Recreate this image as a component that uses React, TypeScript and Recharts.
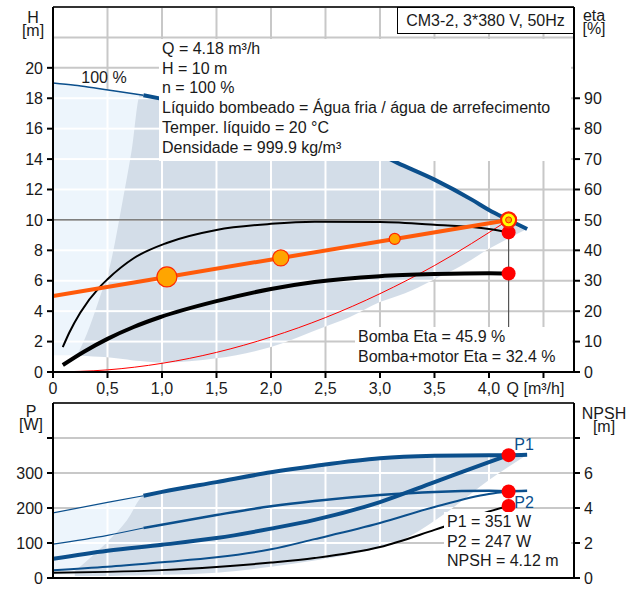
import React from "react";
import {
  Area,
  CartesianGrid,
  ComposedChart,
  Line,
  ReferenceLine,
  XAxis,
  YAxis,
} from "recharts";

// ---- axis ticks / grid ----
const qTicks = [0, 0.5, 1, 1.5, 2, 2.5, 3, 3.5, 4, 4.5];
const hTicks = [0, 2, 4, 6, 8, 10, 12, 14, 16, 18, 20];
const hGrid = [0, 2, 4, 6, 8, 10, 12, 14, 16, 18, 20, 22, 24];
const etaTicks = [0, 10, 20, 30, 40, 50, 60, 70, 80, 90];
const pTicks = [0, 100, 200, 300, 400];
const pGrid = [0, 100, 200, 300, 400, 500];
const npshTicks = [0, 2, 4, 6, 8];

// ---- top chart: H / eta ----
const curve100ThinQ = [0, 0.2, 0.4, 0.6, 0.83];
const curve100ThinH = [19.0, 18.85, 18.65, 18.45, 18.2];
const curve100Q = [0.83, 1.0, 1.5, 2.0, 2.5, 3.0, 3.16, 3.5, 3.85, 4.0, 4.18, 4.35];
const curve100H = [18.2, 17.96, 17.2, 16.4, 15.4, 14.3, 13.75, 12.65, 11.3, 10.65, 10.0, 9.4];

const lightQ = [0, 0.2, 0.4, 0.6, 0.8];
const lightLow = [1.1, 1.1, 1.1, 1.1, 1.1];
const lightHigh = [19.0, 18.85, 18.65, 18.45, 18.25];

const shadeQ = [0.22, 0.31, 0.42, 0.52, 0.64, 0.72, 0.8, 1.0, 1.5, 2.0, 2.5, 2.72, 3.0, 3.16, 3.3, 3.5, 3.75, 4.0, 4.18, 4.35];
const shadeLow = [1.1, 1.05, 1.0, 0.95, 0.85, 0.78, 0.72, 0.62, 0.9, 1.65, 3.0, 3.6, 4.6, 5.0, 5.4, 6.1, 7.0, 8.1, 8.8, 9.4];
const shadeHigh = [1.1, 2.5, 4.7, 6.9, 11.3, 14.5, 18.25, 17.96, 17.2, 16.4, 15.4, 14.9, 14.3, 13.75, 13.3, 12.65, 11.75, 10.65, 10.0, 9.4];

const controlQ = [0, 1.045, 2.09, 3.135, 4.18];
const controlH = [5, 6.25, 7.5, 8.75, 10];

const systemQ = [0, 0.5, 1.0, 1.5, 2.0, 2.5, 3.0, 3.5, 4.18];
const systemH = [0, 0.14, 0.57, 1.29, 2.3, 3.58, 5.15, 7.0, 10];

const pumpEtaQ = [0.09, 0.15, 0.25, 0.43, 0.5, 0.74, 1.05, 1.5, 2.0, 2.4, 3.0, 3.5, 4.0, 4.18];
const pumpEta = [8.2, 13, 19.5, 28, 30.5, 37.4, 42.5, 46.7, 48.7, 49.4, 49.3, 48.4, 47.0, 45.9];
const totalEtaQ = [0.09, 0.28, 0.5, 0.74, 0.98, 1.5, 2.0, 2.4, 3.0, 3.5, 4.0, 4.18];
const totalEta = [2.3, 6.6, 10.9, 14.8, 18, 23.3, 27.3, 29.6, 31.5, 32.2, 32.5, 32.4];

const dutyQ = 4.18;
const dutyH = 10;
const dutyEta = [45.9, 32.4];

// ---- bottom chart: P / NPSH ----
const p1ThinQ = [0, 0.5, 0.83];
const p1Thin = [186, 216, 235];
const p1Q = [0.83, 1.0, 1.5, 2.0, 2.4, 3.0, 3.5, 4.0, 4.18, 4.35];
const p1 = [235, 246, 274, 302, 320, 342, 349, 351, 351, 352];
const p2ThinQ = [0, 0.5, 0.83];
const p2Thin = [97, 122, 143];
const p2Q = [0.83, 1.5, 2.0, 2.4, 3.0, 3.5, 4.0, 4.18, 4.35];
const p2 = [143, 180, 205, 220, 237, 246, 249, 248, 249];
const sysQ = [0, 0.5, 1.0, 1.5, 2.0, 2.4, 3.0, 3.5, 4.0, 4.18];
const p1Sys = [55, 78, 95, 114, 141, 166, 217, 274, 331, 351];
const p2Sys = [22, 32, 45, 59, 82, 111, 157, 203, 240, 247];
const npsh = [0.3, 0.35, 0.45, 0.63, 0.88, 1.14, 1.77, 2.75, 3.8, 4.12];

const bLightQ = [0, 0.2, 0.5, 0.83];
const bLightLow = [10, 10, 10, 10];
const bLightHigh = [186, 198, 216, 235];
const bShadeQ = [0.2, 0.35, 0.52, 0.68, 0.83, 1.0, 1.5, 2.0, 2.4, 2.8, 3.2, 3.6, 4.0, 4.18, 4.35];
const bShadeLow = [6, 6, 6, 7, 8, 9, 15, 32, 50, 72, 108, 185, 280, 318, 352];
const bShadeHigh = [20, 60, 110, 166, 235, 246, 274, 302, 320, 334, 345, 349.5, 351, 351, 352];

const dutyP = [351, 247];
const dutyNpsh = 4.12;

// ---- styles / layout ----
const W = 628;
const TOP_H = 400;
const BOT_H = 192;
const AX_L = 53;
const AX_R = 54;
const Q_MAX = 4.78;
const TOP_M = 7;
const TOP_XH = 28;
const BOT_M = 3;
const BOT_XH = 14;
const PLOT_W = W - AX_L - AX_R;
const CELL_W = (PLOT_W / Q_MAX) * 0.5;
const TOP_CELL_H = (TOP_H - TOP_M - TOP_XH) / 12;
const BOT_CELL_H = (BOT_H - BOT_M - BOT_XH) / 5;

const BLUE = "#0b4f8c";
const SHADE = "#d3dde8";
const SHADE_LIGHT = "#edf5fc";
const GRID = "#c8c8c8";
const ORANGE = "#ff5a0a";
const RED = "#ff0000";
const FONT = "'Liberation Sans', Arial, sans-serif";
const ORANGE_R = [0, 10, 8, 5.5];

const pts = (q: number[], v: number[]) => q.map((x, i) => ({ q: x, v: v[i] }));
const band = (q: number[], lo: number[], hi: number[]) =>
  q.map((x, i) => ({ q: x, v: [lo[i], hi[i]] }));

const fmtQ = (v: number) => (v === 0 ? "0" : v.toFixed(1).replace(".", ","));

function QTick(props: any) {
  const { x, y, payload } = props;
  const last = payload.value === 4.5;
  return (
    <text x={x + (last ? -8 : 0)} y={y} dy="0.71em" textAnchor="middle" fontSize={16} fill="#1a1a1a">
      {last ? "Q [m³/h]" : fmtQ(payload.value)}
    </text>
  );
}

// shade fill that carries the white grid lines over the shaded areas
function GridPattern({ id, fill, y, h }: { id: string; fill: string; y: number; h: number }) {
  return (
    <pattern id={id} patternUnits="userSpaceOnUse" x={AX_L - 1} y={y - 1} width={CELL_W} height={h}>
      <rect width={CELL_W} height={h} fill={fill} />
      <rect width={2} height={h} fill="#fff" />
      <rect width={CELL_W} height={2} fill="#fff" />
    </pattern>
  );
}

const tickStyle = { fontSize: 16, fill: "#1a1a1a" };
const axisLine = { stroke: "#000", strokeWidth: 2 };

// axis unit label: name and unit on two lines, placed by the first baseline
function Unit({ cx, base, lines, color }: { cx: number; base: number; lines: string[]; color?: string }) {
  return (
    <div
      style={{
        position: "absolute",
        left: cx - 40,
        width: 80,
        top: base - 12,
        lineHeight: "13px",
        textAlign: "center",
        color: color || "#1a1a1a",
        whiteSpace: "pre",
      }}
    >
      {lines.join("\n")}
    </div>
  );
}

function TextBox({ left, top, width, height, lines }: { left: number; top: number; width: number; height: number; lines: string[] }) {
  return (
    <div
      style={{
        position: "absolute",
        left,
        top,
        width,
        height,
        background: "#fff",
        paddingLeft: 3,
        boxSizing: "border-box",
      }}
    >
      {lines.map((l) => (
        <div key={l} style={{ lineHeight: "19.7px", whiteSpace: "nowrap" }}>
          {l}
        </div>
      ))}
    </div>
  );
}

function TopChart() {
  return (
    <ComposedChart width={W} height={TOP_H} margin={{ top: TOP_M, right: 0, bottom: 0, left: 0 }}>
      <defs>
        <GridPattern id="topDark" fill={SHADE} y={TOP_M} h={TOP_CELL_H} />
        <GridPattern id="topLight" fill={SHADE_LIGHT} y={TOP_M} h={TOP_CELL_H} />
      </defs>
      <CartesianGrid
        yAxisId="h"
        stroke={GRID}
        strokeWidth={2}
        horizontalValues={hGrid}
        verticalValues={qTicks}
      />
      <XAxis
        dataKey="q"
        type="number"
        domain={[0, Q_MAX]}
        ticks={qTicks}
        interval={0}
        allowDataOverflow
        height={TOP_XH}
        tick={<QTick />}
        tickSize={6}
        tickMargin={5}
        tickLine={axisLine}
        axisLine={axisLine}
      />
      <YAxis
        yAxisId="h"
        type="number"
        domain={[0, 24]}
        ticks={hTicks}
        interval={0}
        allowDataOverflow
        width={AX_L}
        tick={tickStyle}
        tickSize={6}
        tickMargin={4}
        tickLine={axisLine}
        axisLine={axisLine}
      />
      <YAxis
        yAxisId="eta"
        orientation="right"
        type="number"
        domain={[0, 120]}
        ticks={etaTicks}
        interval={0}
        allowDataOverflow
        width={AX_R}
        tick={{ ...tickStyle, textAnchor: "start" }}
        tickSize={6}
        tickMargin={4}
        tickLine={axisLine}
        axisLine={axisLine}
      />
      <Area yAxisId="h" data={band(lightQ, lightLow, lightHigh)} dataKey="v" type="linear" fill="url(#topLight)" fillOpacity={1} stroke="none" isAnimationActive={false} />
      <Area yAxisId="h" data={band(shadeQ, shadeLow, shadeHigh)} dataKey="v" type="monotone" fill="url(#topDark)" fillOpacity={1} stroke="none" isAnimationActive={false} />
      <ReferenceLine yAxisId="h" y={24} stroke="#000" strokeWidth={1.5} />
      <ReferenceLine yAxisId="h" segment={[{ x: 0, y: dutyH }, { x: dutyQ, y: dutyH }]} stroke="#555" strokeWidth={1.2} />
      <ReferenceLine yAxisId="h" segment={[{ x: dutyQ, y: 0 }, { x: dutyQ, y: dutyH }]} stroke="#555" strokeWidth={1.2} />
      <Line yAxisId="h" data={pts(systemQ, systemH)} dataKey="v" type="monotone" stroke={RED} strokeWidth={1} dot={false} activeDot={false} isAnimationActive={false} />
      <Line yAxisId="eta" data={pts(pumpEtaQ, pumpEta)} dataKey="v" type="monotone" stroke="#000" strokeWidth={2} dot={false} activeDot={false} isAnimationActive={false} />
      <Line yAxisId="eta" data={pts(totalEtaQ, totalEta)} dataKey="v" type="monotone" stroke="#000" strokeWidth={4} dot={false} activeDot={false} isAnimationActive={false} />
      <Line yAxisId="h" data={pts(curve100ThinQ, curve100ThinH)} dataKey="v" type="monotone" stroke={BLUE} strokeWidth={1.5} dot={false} activeDot={false} isAnimationActive={false} />
      <Line yAxisId="h" data={pts(curve100Q, curve100H)} dataKey="v" type="monotone" stroke={BLUE} strokeWidth={4} dot={false} activeDot={false} isAnimationActive={false} />
      <Line
        yAxisId="h"
        data={pts(controlQ, controlH)}
        dataKey="v"
        type="linear"
        stroke={ORANGE}
        strokeWidth={4}
        activeDot={false}
        isAnimationActive={false}
        dot={(p: any) => {
          const r = ORANGE_R[p.index];
          if (!r) return <g key={p.index} />;
          return <circle key={p.index} cx={p.cx} cy={p.cy} r={r} fill="#ffa500" stroke="#ff2a00" strokeWidth={1.2} />;
        }}
      />
      <Line
        yAxisId="eta"
        data={pts([dutyQ, dutyQ], dutyEta)}
        dataKey="v"
        stroke="none"
        activeDot={false}
        isAnimationActive={false}
        dot={(p: any) => <circle key={p.index} cx={p.cx} cy={p.cy} r={7} fill={RED} stroke="none" />}
      />
      <Line
        yAxisId="h"
        data={pts([dutyQ], [dutyH])}
        dataKey="v"
        stroke="none"
        activeDot={false}
        isAnimationActive={false}
        dot={(p: any) => (
          <g key={p.index}>
            <circle cx={p.cx} cy={p.cy} r={7.5} fill="#ffff00" stroke="#ff2000" strokeWidth={2.2} />
            <circle cx={p.cx} cy={p.cy} r={3} fill="#ffa500" stroke="#ff2000" strokeWidth={1} />
          </g>
        )}
      />
    </ComposedChart>
  );
}

function BottomChart() {
  return (
    <ComposedChart width={W} height={BOT_H} margin={{ top: BOT_M, right: 0, bottom: 0, left: 0 }}>
      <defs>
        <GridPattern id="botDark" fill={SHADE} y={BOT_M} h={BOT_CELL_H} />
        <GridPattern id="botLight" fill={SHADE_LIGHT} y={BOT_M} h={BOT_CELL_H} />
      </defs>
      <CartesianGrid
        yAxisId="p"
        stroke={GRID}
        strokeWidth={2}
        horizontalValues={pGrid}
        verticalValues={qTicks}
      />
      <XAxis
        dataKey="q"
        type="number"
        domain={[0, Q_MAX]}
        ticks={qTicks}
        allowDataOverflow
        height={BOT_XH}
        tick={false}
        tickLine={false}
        axisLine={axisLine}
      />
      <YAxis
        yAxisId="p"
        type="number"
        domain={[0, 500]}
        ticks={pTicks}
        interval={0}
        allowDataOverflow
        width={AX_L}
        tick={tickStyle}
        tickFormatter={(v: number) => (v === 400 ? "" : String(v))}
        tickSize={6}
        tickMargin={4}
        tickLine={axisLine}
        axisLine={axisLine}
      />
      <YAxis
        yAxisId="npsh"
        orientation="right"
        type="number"
        domain={[0, 10]}
        ticks={npshTicks}
        interval={0}
        allowDataOverflow
        width={AX_R}
        tick={{ ...tickStyle, textAnchor: "start" }}
        tickFormatter={(v: number) => (v === 8 ? "" : String(v))}
        tickSize={6}
        tickMargin={4}
        tickLine={axisLine}
        axisLine={axisLine}
      />
      <Area yAxisId="p" data={band(bLightQ, bLightLow, bLightHigh)} dataKey="v" type="linear" fill="url(#botLight)" fillOpacity={1} stroke="none" isAnimationActive={false} />
      <Area yAxisId="p" data={band(bShadeQ, bShadeLow, bShadeHigh)} dataKey="v" type="monotone" fill="url(#botDark)" fillOpacity={1} stroke="none" isAnimationActive={false} />
      <ReferenceLine yAxisId="p" y={500} stroke="#000" strokeWidth={1.5} />
      <Line yAxisId="npsh" data={pts(sysQ, npsh)} dataKey="v" type="monotone" stroke="#000" strokeWidth={2} dot={false} activeDot={false} isAnimationActive={false} />
      <Line yAxisId="p" data={pts(sysQ, p2Sys)} dataKey="v" type="monotone" stroke={BLUE} strokeWidth={2} dot={false} activeDot={false} isAnimationActive={false} />
      <Line yAxisId="p" data={pts(sysQ, p1Sys)} dataKey="v" type="monotone" stroke={BLUE} strokeWidth={4} dot={false} activeDot={false} isAnimationActive={false} />
      <Line yAxisId="p" data={pts(p2ThinQ, p2Thin)} dataKey="v" type="monotone" stroke={BLUE} strokeWidth={1.2} dot={false} activeDot={false} isAnimationActive={false} />
      <Line yAxisId="p" data={pts(p2Q, p2)} dataKey="v" type="monotone" stroke={BLUE} strokeWidth={2.5} dot={false} activeDot={false} isAnimationActive={false} />
      <Line yAxisId="p" data={pts(p1ThinQ, p1Thin)} dataKey="v" type="monotone" stroke={BLUE} strokeWidth={1.2} dot={false} activeDot={false} isAnimationActive={false} />
      <Line yAxisId="p" data={pts(p1Q, p1)} dataKey="v" type="monotone" stroke={BLUE} strokeWidth={4} dot={false} activeDot={false} isAnimationActive={false} />
      <Line
        yAxisId="p"
        data={pts([dutyQ, dutyQ], dutyP)}
        dataKey="v"
        stroke="none"
        activeDot={false}
        isAnimationActive={false}
        dot={(p: any) => <circle key={p.index} cx={p.cx} cy={p.cy} r={7} fill={RED} stroke="none" />}
      />
      <Line
        yAxisId="npsh"
        data={pts([dutyQ], [dutyNpsh])}
        dataKey="v"
        stroke="none"
        activeDot={false}
        isAnimationActive={false}
        dot={(p: any) => <circle key={p.index} cx={p.cx} cy={p.cy} r={7} fill={RED} stroke="none" />}
      />
    </ComposedChart>
  );
}

export default function App() {
  return (
    <div
      style={{
        position: "absolute",
        left: 0,
        top: 0,
        width: W,
        height: TOP_H + BOT_H,
        background: "#fff",
        fontFamily: FONT,
        fontSize: 16,
        color: "#1a1a1a",
      }}
    >
      <div style={{ position: "absolute", left: 0, top: 0 }}>
        <TopChart />
      </div>
      <div style={{ position: "absolute", left: 0, top: TOP_H }}>
        <BottomChart />
      </div>

      <TextBox
        left={159}
        top={39}
        width={412}
        height={122}
        lines={[
          "Q = 4.18 m³/h",
          "H = 10 m",
          "n = 100 %",
          "Líquido bombeado = Água fria / água de arrefecimento",
          "Temper. líquido = 20 °C",
          "Densidade = 999.9 kg/m³",
        ]}
      />
      <TextBox left={355} top={327} width={217} height={44} lines={["Bomba Eta = 45.9 %", "Bomba+motor Eta = 32.4 %"]} />
      <TextBox left={444} top={512} width={127} height={65} lines={["P1 = 351 W", "P2 = 247 W", "NPSH = 4.12 m"]} />

      <div
        style={{
          position: "absolute",
          left: 397,
          top: 7,
          width: 177,
          height: 27,
          border: "1px solid #000",
          boxSizing: "border-box",
          background: "#fff",
          textAlign: "center",
          lineHeight: "25px",
          whiteSpace: "nowrap",
        }}
      >
        CM3-2, 3*380 V, 50Hz
      </div>

      <Unit cx={33} base={23} lines={["H", "[m]"]} />
      <Unit cx={594} base={20.5} lines={["eta", "[%]"]} />
      <Unit cx={31} base={417} lines={["P", "[W]"]} />
      <Unit cx={604} base={419} lines={["NPSH", "[m]"]} />
      <Unit cx={104} base={83} lines={["100 %"]} />
      <Unit cx={524} base={450} lines={["P1"]} color={BLUE} />
      <Unit cx={524} base={508} lines={["P2"]} color={BLUE} />
    </div>
  );
}
